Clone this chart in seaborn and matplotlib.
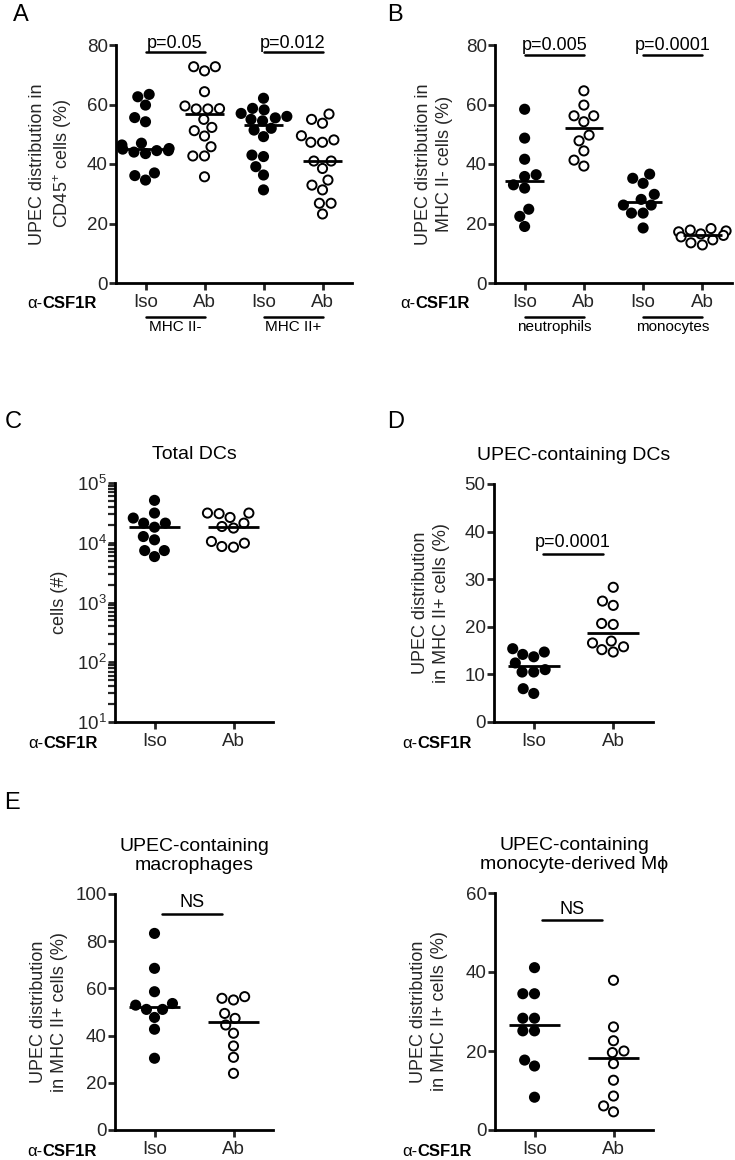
import numpy as np
import pandas as pd
import seaborn as sns
import matplotlib.pyplot as plt
from matplotlib.ticker import LogLocator, NullFormatter

# A: UPEC distribution in CD45+ cells (%)
a_groups = ["Iso MHC II-", "Ab MHC II-", "Iso MHC II+", "Ab MHC II+"]
a_iso_neg = [62.6, 63.4, 59.8, 55.6, 54.2, 47.0, 46.4, 45.2, 45.0, 44.5, 44.5, 44.0, 43.5, 37.0, 36.1, 34.6]
a_ab_neg = [72.7, 71.3, 72.7, 64.3, 59.5, 58.6, 58.5, 58.5, 55.0, 52.3, 51.2, 49.4, 45.8, 42.7, 42.7, 35.7]
a_iso_pos = [62.1, 58.7, 58.2, 57.0, 56.0, 55.5, 55.0, 54.5, 52.0, 51.4, 49.2, 43.0, 42.5, 39.1, 36.3, 31.3]
a_ab_pos = [56.8, 55.0, 53.7, 49.5, 48.1, 47.3, 47.3, 41.0, 41.0, 38.5, 34.6, 32.9, 31.3, 26.8, 26.8, 23.2]

# B: UPEC distribution in MHC II- cells (%)
b_groups = ["Iso neutrophils", "Ab neutrophils", "Iso monocytes", "Ab monocytes"]
b_iso_neu = [58.4, 48.7, 41.6, 36.4, 35.8, 33.0, 31.9, 24.8, 22.4, 19.0]
b_ab_neu = [64.6, 59.8, 56.2, 56.2, 54.2, 49.7, 47.8, 44.4, 41.3, 39.3]
b_iso_mono = [36.6, 35.2, 33.5, 29.8, 28.1, 26.2, 26.2, 23.5, 23.5, 18.5]
b_ab_mono = [18.3, 17.8, 17.5, 17.2, 16.5, 16.0, 15.5, 14.5, 13.5, 12.8]

# C: total DCs (cells #)
c_iso = [51200, 31400, 25900, 21300, 21300, 18200, 12700, 11200, 7400, 7400, 5870]
c_ab = [31400, 31400, 30700, 26500, 21300, 18700, 17600, 10500, 9840, 8650, 8440]

# D: UPEC-containing DCs
d_iso = [15.4, 14.7, 14.2, 13.7, 12.4, 11.0, 10.5, 10.5, 7.0, 6.0]
d_ab = [28.3, 25.4, 24.5, 20.7, 20.5, 17.0, 16.6, 15.8, 15.2, 14.7]

# E: UPEC-containing macrophages / monocyte-derived Mphi
e_mac_iso = [83.3, 68.5, 58.6, 53.6, 52.9, 51.1, 51.1, 47.7, 42.7, 30.4]
e_mac_ab = [56.5, 55.8, 55.1, 49.4, 47.3, 44.5, 41.0, 35.6, 30.8, 24.0]
e_mo_iso = [41.1, 34.5, 34.5, 28.3, 28.3, 25.1, 25.1, 17.7, 16.2, 8.3]
e_mo_ab = [37.9, 26.1, 22.6, 20.0, 19.6, 16.8, 12.6, 8.6, 6.1, 4.6]

sns.set_style("ticks")
plt.rcParams['font.family'] = ['Liberation Sans', 'DejaVu Sans']
plt.rcParams['mathtext.fontset'] = 'custom'
plt.rcParams['mathtext.rm'] = 'Liberation Sans'
plt.rcParams['mathtext.it'] = 'Liberation Sans:italic'
plt.rcParams['mathtext.bf'] = 'Liberation Sans:bold'
plt.rcParams['axes.linewidth'] = 2.0
plt.rcParams['axes.edgecolor'] = 'black'
plt.rcParams['text.color'] = 'black'

W, H = 735, 1160
fig = plt.figure(figsize=(W / 100, H / 100), dpi=100)


def box(l, t, r, b):
    return [l / W, 1 - b / H, (r - l) / W, (b - t) / H]


def dots(ax, groups, series, logy=False):
    rows = []
    for g, vals in zip(groups, series):
        for v in vals:
            rows.append({"group": g, "treat": g.split()[0], "value": v})
    df = pd.DataFrame(rows)
    if logy:
        ax.set_yscale("log")
    sns.swarmplot(data=df, x="group", y="value", hue="treat", order=groups,
                  palette={"Iso": "black", "Ab": "white"}, size=6.6,
                  edgecolor="black", linewidth=1.4, legend=False, ax=ax, zorder=3)
    sns.boxplot(data=df, x="group", y="value", order=groups, width=0.65,
                showbox=False, showcaps=False, showfliers=False,
                whiskerprops={"visible": False},
                medianprops={"color": "black", "linewidth": 2}, ax=ax, zorder=4)
    ax.set_xlim(-0.5, len(groups) - 0.5)
    ax.set_xticks(range(len(groups)))
    ax.set_xticklabels([g.split()[0] for g in groups])
    ax.set_xlabel("")
    sns.despine(ax=ax)
    ax.tick_params(axis="both", which="major", length=5, width=2, labelsize=13.5, direction="out")
    ax.tick_params(axis="y", pad=1)
    ax.tick_params(axis="x", pad=3)


def ylab(ax, text, xr):
    ax.set_ylabel(text, fontsize=13, linespacing=1.3)
    ax.yaxis.set_label_coords(xr, 0.5)


def sig(ax, x0, x1, y, text, dy):
    ax.plot([x0, x1], [y, y], color="black", lw=1.8, clip_on=False)
    ax.text((x0 + x1) / 2, y + dy, text, ha="center", va="bottom", fontsize=13)


def csf(ax, xr, y):
    t = fig.text(xr / W, 1 - y / H, "CSF1R", fontweight="bold", fontsize=12,
                 ha="right", va="center")
    ax.annotate("α-", xy=(0, 0.5), xycoords=t, ha="right", va="center", fontsize=12)


def groupbar(ax, x0, x1, text):
    tr = ax.get_xaxis_transform()
    ax.plot([x0, x1], [-0.143, -0.143], color="black", lw=1.8, transform=tr, clip_on=False)
    ax.text((x0 + x1) / 2, -0.155, text, ha="center", va="top", fontsize=11, transform=tr)


def letter(x, y, s):
    fig.text(x / W, 1 - y / H, s, fontsize=17, ha="center", va="center")


# A
ax = fig.add_axes(box(116, 45, 352, 283))
dots(ax, a_groups, [a_iso_neg, a_ab_neg, a_iso_pos, a_ab_pos])
ax.set_ylim(0, 80)
ax.set_yticks([0, 20, 40, 60, 80])
ylab(ax, "UPEC distribution in\nCD45$^{+}$ cells (%)", -0.178)
sig(ax, 0, 1, 77.5, "p=0.05", 0.3)
sig(ax, 2, 3, 77.5, "p=0.012", 0.3)
groupbar(ax, 0, 1, "MHC II-")
groupbar(ax, 2, 3, "MHC II+")
csf(ax, 97, 303)
letter(21, 15, "A")

# B
ax = fig.add_axes(box(495, 45, 732, 283))
dots(ax, b_groups, [b_iso_neu, b_ab_neu, b_iso_mono, b_ab_mono])
ax.set_ylim(0, 80)
ax.set_yticks([0, 20, 40, 60, 80])
ylab(ax, "UPEC distribution in\nMHC II- cells (%)", -0.178)
sig(ax, 0, 1, 76.6, "p=0.005", 0.3)
sig(ax, 2, 3, 76.6, "p=0.0001", 0.3)
groupbar(ax, 0, 1, "neutrophils")
groupbar(ax, 2, 3, "monocytes")
csf(ax, 470, 303)
letter(395, 15, "B")

# C
ax = fig.add_axes(box(115, 483, 273, 722))
dots(ax, ["Iso", "Ab"], [c_iso, c_ab], logy=True)
ax.set_ylim(10, 1e5)
ax.yaxis.set_major_locator(LogLocator(base=10, numticks=10))
ax.yaxis.set_minor_locator(LogLocator(base=10, subs=np.arange(2, 10), numticks=10))
ax.yaxis.set_minor_formatter(NullFormatter())
ax.tick_params(axis="y", which="minor", length=5, width=1.6)
ylab(ax, "cells (#)", -0.30)
ax.set_title("Total DCs", fontsize=14, pad=17)
csf(ax, 98, 743)
letter(13, 422, "C")

# D
ax = fig.add_axes(box(494, 484, 653, 722))
dots(ax, ["Iso", "Ab"], [d_iso, d_ab])
ax.set_ylim(0, 50)
ax.set_yticks([0, 10, 20, 30, 40, 50])
ylab(ax, "UPEC distribution\nin MHC II+ cells (%)", -0.277)
sig(ax, 0.12, 0.87, 35.3, "p=0.0001", 0.7)
ax.set_title("UPEC-containing DCs", fontsize=14, pad=17)
csf(ax, 472, 743)
letter(396, 422, "D")

# E left
ax = fig.add_axes(box(115, 894, 273, 1130))
dots(ax, ["Iso", "Ab"], [e_mac_iso, e_mac_ab])
ax.set_ylim(0, 100)
ax.set_yticks([0, 20, 40, 60, 80, 100])
ylab(ax, "UPEC distribution\nin MHC II+ cells (%)", -0.297)
sig(ax, 0.1, 0.85, 91.4, "NS", 1.5)
ax.set_title("UPEC-containing\nmacrophages", fontsize=14, pad=17)
csf(ax, 97, 1152)
letter(12, 803, "E")

# E right
ax = fig.add_axes(box(495, 893, 653, 1130))
dots(ax, ["Iso", "Ab"], [e_mo_iso, e_mo_ab])
ax.set_ylim(0, 60)
ax.set_yticks([0, 20, 40, 60])
ylab(ax, "UPEC distribution\nin MHC II+ cells (%)", -0.30)
sig(ax, 0.1, 0.85, 53.1, "NS", 0.6)
ax.set_title("UPEC-containing\nmonocyte-derived Mϕ", fontsize=14, pad=17)
csf(ax, 472, 1152)

fig.savefig("out.png", dpi=100)
